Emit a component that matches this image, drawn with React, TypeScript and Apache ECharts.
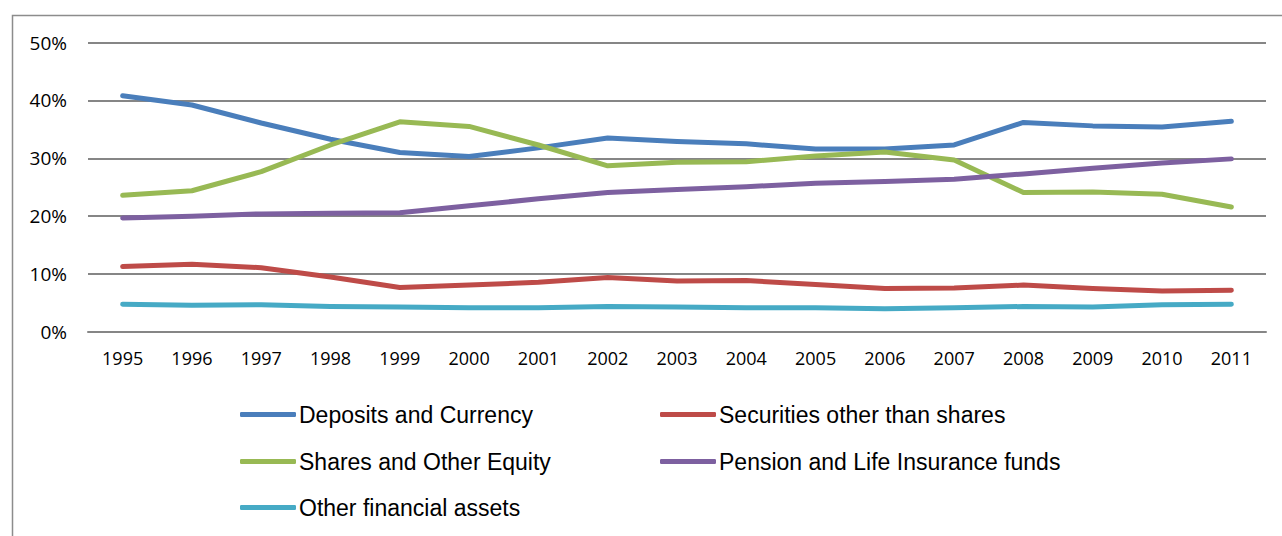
import React, { useEffect, useRef } from "react";
import * as echarts from "echarts";

const years = ["1995","1996","1997","1998","1999","2000","2001","2002","2003","2004","2005","2006","2007","2008","2009","2010","2011"];
const deposits = [40.8, 39.2, 36.1, 33.3, 31.0, 30.3, 31.8, 33.5, 32.9, 32.5, 31.6, 31.6, 32.3, 36.2, 35.6, 35.4, 36.4];
const securities = [11.3, 11.7, 11.1, 9.5, 7.7, 8.1, 8.6, 9.4, 8.8, 8.9, 8.2, 7.5, 7.6, 8.1, 7.5, 7.1, 7.2];
const shares = [23.6, 24.4, 27.7, 32.3, 36.3, 35.5, 32.3, 28.7, 29.3, 29.4, 30.4, 31.1, 29.7, 24.1, 24.2, 23.8, 21.6];
const pension = [19.7, 20.0, 20.4, 20.5, 20.6, 21.8, 23.0, 24.1, 24.6, 25.1, 25.7, 26.0, 26.4, 27.3, 28.3, 29.2, 29.9];
const other = [4.8, 4.6, 4.7, 4.4, 4.3, 4.2, 4.2, 4.4, 4.3, 4.2, 4.2, 4.0, 4.2, 4.4, 4.3, 4.7, 4.8];

const seriesNames = [
  "Deposits and Currency",
  "Securities other than shares",
  "Shares and Other Equity",
  "Pension and Life Insurance funds",
  "Other financial assets",
];
const seriesData = [deposits, securities, shares, pension, other];
const colors = ["#4A7EBB", "#BE4B48", "#98B954", "#7D60A0", "#46AAC5"];
const legendPos = [
  { left: 240, top: 403 },
  { left: 660, top: 403 },
  { left: 240, top: 450 },
  { left: 660, top: 450 },
  { left: 240, top: 496 },
];

export default function App() {
  const ref = useRef<HTMLDivElement>(null);
  useEffect(() => {
    document.body.style.margin = "0";
    const chart = echarts.init(ref.current!, undefined, { renderer: "svg" });
    chart.setOption({
      animation: false,
      backgroundColor: "#ffffff",
      graphic: [
        {
          type: "rect",
          left: 10,
          top: 13,
          shape: { width: 1300, height: 600 },
          style: { fill: "none", stroke: "#8c8c8c", lineWidth: 1.5 },
          z: 0,
        },
      ],
      grid: { left: 88, right: 16, top: 42.5, bottom: 204, containLabel: false },
      xAxis: {
        type: "category",
        data: years,
        boundaryGap: true,
        axisLine: { show: true, lineStyle: { color: "#868686", width: 2 } },
        axisTick: { show: false },
        axisLabel: { color: "#000", fontFamily: "Open Sans", fontSize: 18, margin: 17 },
      },
      yAxis: {
        type: "value",
        min: 0,
        max: 50,
        interval: 10,
        axisLine: { show: false },
        axisTick: { show: false },
        splitLine: { lineStyle: { color: "#868686", width: 2 } },
        axisLabel: {
          color: "#000",
          fontFamily: "Open Sans",
          fontSize: 19,
          margin: 21,
          formatter: (v: number) => v + "%",
        },
      },
      legend: seriesNames.map((n, i) => ({
        data: [n],
        left: legendPos[i].left,
        top: legendPos[i].top,
        itemWidth: 56,
        itemHeight: 5,
        itemGap: 0,
        padding: 0,
        icon: "roundRect",
        textStyle: { color: "#000", fontFamily: "Liberation Sans", fontSize: 23, padding: [0, 0, 0, -2] },
        selectedMode: false,
      })),
      series: seriesNames.map((n, i) => ({
        name: n,
        type: "line",
        data: seriesData[i],
        symbol: "none",
        smooth: false,
        color: colors[i],
        lineStyle: { width: 5, color: colors[i], cap: "round", join: "round" },
      })),
    });
    return () => chart.dispose();
  }, []);
  return <div ref={ref} style={{ width: 1282, height: 536 }} />;
}
